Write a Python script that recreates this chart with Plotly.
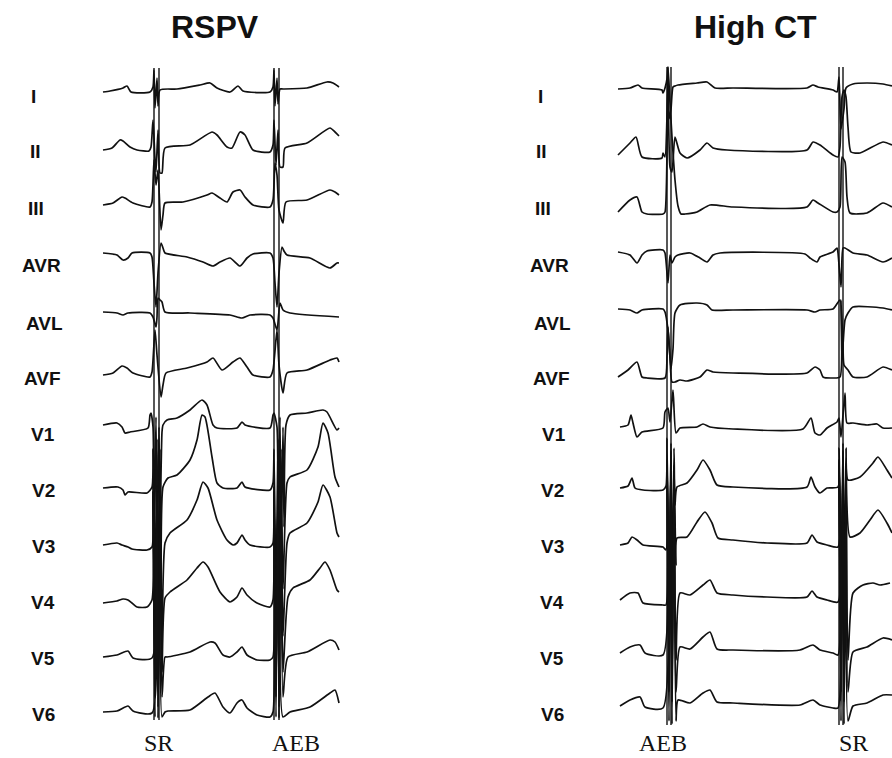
import plotly.graph_objects as go

# ---------------- data: (time, amplitude) samples ----------------
leads = ["I", "II", "III", "AVR", "AVL", "AVF", "V1", "V2", "V3", "V4", "V5", "V6"]

# RSPV panel (beat 1 = SR, beat 2 = AEB)
rspv_I = [(3,0),(10,1),(23,4),(27,6),(31,0),(50,0),(53,5),(54,22),(55,-16),(57,14),(58,-14),(60,2),(77,3),(100,7),(110,9),(117,4),(130,0),(138,6),(143,1),(170,0),(173,5),(174,22),(175,-14),(177,14),(178,-12),(180,3),(183,3),(207,4),(227,10),(233,9),(239,5)]
rspv_II = [(3,0),(12,2),(20,10),(23,9),(30,3),(37,0),(49,-1),(51,3),(53,30),(55,-10),(56,-22),(58,20),(60,-23),(62,-23),(65,2),(90,5),(112,18),(117,15),(127,3),(132,2),(140,18),(145,15),(153,0),(170,-2),(173,5),(174,30),(176,-15),(178,20),(180,-17),(183,-17),(185,2),(207,7),(230,22),(235,18),(239,14)]
rspv_III = [(3,0),(13,2),(22,8),(25,7),(33,2),(50,-2),(52,3),(54,45),(56,20),(58,35),(61,-25),(63,-10),(65,2),(83,3),(107,10),(112,12),(120,7),(127,3),(133,13),(140,15),(145,8),(153,0),(170,-2),(173,5),(175,42),(177,30),(179,-5),(183,-18),(186,3),(207,5),(230,15),(235,13),(239,10)]
rspv_AVR = [(3,0),(17,-2),(23,-7),(28,-5),(32,0),(50,0),(52,-4),(54,-30),(56,-54),(58,-20),(61,10),(63,5),(65,0),(87,-4),(103,-9),(113,-13),(120,-9),(130,-5),(140,-13),(147,-5),(153,-1),(170,0),(173,-5),(175,-30),(177,-54),(179,-20),(182,6),(184,2),(187,-2),(210,-5),(230,-15),(237,-10),(239,-10)]
rspv_AVL = [(3,0),(17,-1),(23,-3),(28,-1),(50,-1),(53,-5),(56,-15),(57,-5),(58,14),(60,12),(62,10),(65,0),(90,-1),(130,-3),(142,-6),(150,-3),(170,-3),(173,-6),(177,-18),(180,9),(183,2),(190,-1),(239,-5)]
rspv_AVF = [(3,0),(13,2),(22,9),(27,7),(33,2),(50,-2),(52,3),(55,45),(57,20),(61,-22),(63,-10),(66,2),(87,7),(107,13),(113,17),(122,5),(133,13),(140,17),(147,8),(153,0),(170,-2),(173,5),(177,45),(179,10),(183,-18),(187,2),(207,5),(230,15),(237,17),(239,13)]
rspv_V1 = [(3,2),(17,4),(22,0),(25,-6),(30,-5),(48,-1),(50,12),(51,14),(53,0),(54,-110),(56,10),(57,-120),(59,0),(60,-100),(62,-5),(63,2),(67,7),(77,9),(90,17),(102,27),(107,22),(113,2),(117,-1),(137,-1),(142,5),(145,2),(170,-1),(173,12),(174,14),(177,0),(178,-110),(180,10),(181,-120),(183,0),(184,-100),(186,2),(190,12),(207,14),(223,17),(227,15),(237,-3),(239,-1)]
rspv_V2 = [(3,1),(18,2),(23,-1),(25,-6),(28,-3),(47,-4),(52,2),(53,40),(55,-110),(57,50),(58,-120),(60,40),(61,-100),(63,2),(68,11),(77,14),(90,29),(97,49),(102,74),(105,72),(112,32),(117,6),(123,1),(137,1),(142,7),(145,2),(170,-1),(173,6),(174,40),(176,-110),(178,50),(179,-120),(181,40),(183,-100),(187,6),(190,12),(207,19),(218,42),(223,66),(228,56),(235,12),(239,2)]
rspv_V3 = [(3,1),(17,3),(22,1),(28,-1),(32,-3),(47,-4),(52,-1),(53,50),(55,-110),(57,60),(58,-120),(60,50),(62,-90),(65,3),(70,13),(87,26),(97,46),(103,64),(108,58),(117,26),(127,6),(133,1),(137,3),(142,11),(145,6),(150,1),(170,-1),(173,3),(174,50),(176,-110),(178,60),(179,-120),(181,50),(183,-90),(187,3),(190,13),(207,23),(218,44),(223,61),(230,49),(237,13),(239,9)]
rspv_V4 = [(3,-1),(17,1),(23,3),(28,2),(32,-1),(37,-5),(47,-5),(52,2),(53,110),(55,-80),(57,110),(58,-90),(60,100),(62,-70),(65,4),(70,10),(87,22),(97,34),(103,40),(108,35),(120,10),(130,0),(137,5),(142,14),(147,7),(157,-1),(170,-5),(173,2),(174,110),(176,-80),(178,110),(179,-90),(181,100),(183,-70),(188,5),(193,14),(210,22),(220,34),(225,40),(230,32),(237,12),(239,10)]
rspv_V5 = [(3,0),(17,2),(28,6),(33,-1),(52,-1),(53,170),(55,-40),(57,170),(58,-50),(60,160),(62,-40),(65,0),(67,0),(90,5),(110,15),(115,14),(123,2),(130,0),(137,5),(142,10),(147,2),(157,-3),(170,-3),(173,0),(174,170),(176,-40),(178,170),(179,-50),(181,160),(183,-40),(188,0),(207,5),(230,17),(235,15),(239,7)]
rspv_V6 = [(3,0),(17,1),(28,6),(33,1),(52,-1),(53,220),(55,-5),(57,220),(58,-6),(60,200),(62,-5),(65,0),(68,1),(90,2),(108,15),(115,19),(123,5),(130,-1),(137,9),(142,12),(147,4),(157,-3),(170,-5),(173,0),(174,220),(176,-5),(178,220),(179,-6),(181,200),(183,-5),(190,0),(210,5),(230,19),(235,22),(239,9)]
rspv_spike_times = [54, 59, 174, 179]

# High CT panel (beat 1 = AEB, beat 2 = SR)
hct_I = [(3,0),(15,1),(23,4),(27,1),(47,-1),(48,-4),(50,1),(52,10),(53,22),(54,-30),(56,-20),(58,2),(60,3),(63,4),(82,6),(92,7),(100,1),(118,1),(192,1),(198,4),(203,2),(218,-1),(222,-3),(224,12),(226,-40),(229,-20),(231,1),(238,5),(252,6),(268,5),(277,3)]
hct_II = [(3,2),(15,14),(21,20),(27,0),(47,-1),(48,4),(50,0),(53,70),(55,-10),(57,-15),(60,20),(65,4),(72,-1),(85,7),(92,14),(98,9),(112,7),(192,7),(198,15),(205,12),(218,2),(223,0),(225,10),(227,60),(229,67),(231,60),(233,30),(236,5),(245,4),(268,15),(277,12)]
hct_III = [(3,0),(15,12),(22,15),(27,0),(32,-2),(48,-2),(50,0),(53,145),(55,109),(57,75),(60,32),(63,6),(66,-2),(70,-2),(82,0),(95,7),(118,5),(192,5),(198,12),(203,9),(218,0),(222,0),(225,5),(227,55),(230,50),(232,15),(235,-1),(252,-1),(268,9),(277,5)]
hct_AVR = [(3,0),(15,-3),(22,-11),(27,-3),(32,1),(48,2),(50,-1),(53,-31),(55,-3),(57,-11),(60,-5),(63,-3),(75,-1),(85,-6),(92,-10),(98,-3),(105,-1),(190,-2),(195,-6),(202,-10),(205,-5),(218,0),(222,4),(223,-1),(226,-35),(228,4),(230,4),(238,-1),(252,-3),(268,-10),(277,-6)]
hct_AVL = [(3,0),(15,-1),(22,-4),(27,-1),(48,0),(50,-3),(53,-21),(56,-60),(58,-40),(60,-4),(65,4),(82,6),(92,4),(97,-1),(118,-1),(192,-1),(200,-3),(205,-1),(218,0),(225,9),(227,-50),(230,-11),(233,-4),(238,2),(268,1),(277,-1)]
hct_AVF = [(3,0),(13,7),(22,15),(27,0),(32,-1),(50,-1),(52,20),(53,50),(55,20),(57,-5),(60,-5),(65,-3),(72,-4),(85,0),(92,7),(98,5),(118,4),(192,4),(200,10),(205,7),(208,0),(218,-1),(225,0),(226,77),(228,30),(229,12),(233,7),(238,0),(252,0),(268,10),(277,7)]
hct_V1 = [(5,0),(13,2),(16,12),(18,4),(22,-10),(27,-5),(48,-1),(50,15),(53,19),(55,5),(58,37),(61,-6),(65,-1),(82,0),(88,3),(95,0),(118,-2),(188,-2),(196,9),(200,-6),(205,-8),(212,-1),(222,5),(224,9),(226,-10),(230,34),(232,4),(238,4),(252,2),(262,3),(268,-1),(277,-1)]
hct_V2 = [(5,0),(13,2),(17,10),(20,0),(28,-2),(48,-2),(51,2),(52,50),(54,-110),(56,45),(57,-120),(59,40),(60,-17),(62,1),(72,5),(82,18),(88,28),(95,18),(102,3),(118,1),(192,1),(196,11),(200,1),(205,-5),(212,0),(223,1),(224,40),(226,-110),(228,45),(229,-120),(231,40),(233,8),(245,11),(258,25),(263,31),(272,18),(277,10)]
hct_V3 = [(5,0),(13,2),(17,8),(22,5),(28,0),(48,-2),(51,-5),(52,80),(54,-100),(56,85),(57,-110),(59,80),(61,-20),(62,7),(72,8),(82,23),(90,33),(97,22),(103,7),(118,5),(152,2),(192,2),(197,10),(202,3),(212,0),(223,-2),(224,80),(226,-100),(228,85),(229,-110),(231,80),(235,8),(245,12),(255,25),(263,35),(272,22),(277,12)]
hct_V4 = [(5,0),(15,7),(23,7),(28,-3),(48,-5),(51,-5),(52,140),(54,-80),(56,150),(57,-90),(59,130),(61,-60),(65,7),(75,5),(88,15),(95,20),(102,7),(118,5),(152,3),(192,3),(197,9),(202,3),(212,0),(223,-2),(224,140),(226,-80),(228,150),(229,-90),(231,130),(233,-60),(238,7),(248,15),(258,17),(265,15),(275,17)]
hct_V5 = [(5,-1),(15,5),(25,7),(30,-1),(48,-3),(52,190),(54,-40),(56,200),(57,-50),(59,180),(61,-40),(65,5),(75,3),(88,15),(95,20),(102,3),(118,2),(185,2),(198,7),(205,2),(218,-1),(223,-3),(224,190),(226,-40),(228,200),(229,-50),(231,180),(233,-40),(238,0),(252,5),(268,14),(277,12)]
hct_V6 = [(5,0),(15,6),(25,9),(30,-1),(48,-2),(52,240),(54,-15),(56,250),(57,-18),(59,230),(61,-15),(63,6),(75,3),(88,13),(95,16),(102,4),(118,3),(185,1),(198,6),(205,1),(218,-2),(223,-2),(224,240),(226,-15),(228,250),(229,-18),(231,230),(233,-15),(238,0),(252,3),(268,11),(277,11)]
hct_spike_times = [52, 56, 224, 228]

panel_titles = ["RSPV", "High CT"]
beat_labels_rspv = ["SR", "AEB"]
beat_labels_hct = ["AEB", "SR"]

# ---------------- layout (positions in page pixels) ----------------
W, H = 892, 758
rspv_rows = [92, 150, 205, 253, 312, 375, 427, 489, 546, 602, 657, 712]
hct_rows = [89, 157, 212, 252, 309, 377, 427, 488, 545, 600, 652, 706]

rspv_data = [rspv_I, rspv_II, rspv_III, rspv_AVR, rspv_AVL, rspv_AVF,
             rspv_V1, rspv_V2, rspv_V3, rspv_V4, rspv_V5, rspv_V6]
hct_data = [hct_I, hct_II, hct_III, hct_AVR, hct_AVL, hct_AVF,
            hct_V1, hct_V2, hct_V3, hct_V4, hct_V5, hct_V6]

INK = "#111111"
LW = 1.7

fig = go.Figure()

def add_panel(data, rows, spikes, xaxis, top_extra, bottom_extra):
    for pts, base in zip(data, rows):
        fig.add_trace(go.Scatter(
            x=[p[0] for p in pts], y=[p[1] - base for p in pts],
            mode="lines", line=dict(color=INK, width=LW, shape="spline", smoothing=0.6),
            xaxis=xaxis, yaxis="y", hoverinfo="skip", showlegend=False))
    xs, ys = [], []
    top = -rows[0] + top_extra
    bot = -rows[-1] - bottom_extra
    for t in spikes:
        xs += [t, t, None]
        ys += [top, bot, None]
    fig.add_trace(go.Scatter(x=xs, y=ys, mode="lines",
                             line=dict(color=INK, width=1.4),
                             xaxis=xaxis, yaxis="y", hoverinfo="skip", showlegend=False))

add_panel(rspv_data, rspv_rows, rspv_spike_times, "x", 24, 8)
add_panel(hct_data, hct_rows, hct_spike_times, "x2", 22, 19)

ann = []
# panel titles
for txt, px in zip(panel_titles, [215, 755]):
    ann.append(dict(text="<b>%s</b>" % txt, x=px / W, y=1 - 27 / H, xref="paper", yref="paper",
                    showarrow=False, xanchor="center", yanchor="middle",
                    font=dict(family="Liberation Sans, Arial", size=32, color=INK)))
# lead labels
left_label_x = [33, 35, 36, 41, 44, 42, 43, 43, 43, 43, 43, 43]
right_label_x = [540, 541, 543, 549, 552, 551, 554, 552, 552, 552, 552, 552]
label_y = [97, 152, 208, 266, 323, 378, 434, 490, 546, 602, 658, 714]
for name, lx, rx, ly in zip(leads, left_label_x, right_label_x, label_y):
    for xx in (lx, rx):
        ann.append(dict(text="<b>%s</b>" % name, x=xx / W, y=1 - ly / H, xref="paper", yref="paper",
                        showarrow=False, xanchor="center", yanchor="middle",
                        font=dict(family="Liberation Sans, Arial", size=19, color=INK)))
# beat labels
for txt, px in zip(beat_labels_rspv + beat_labels_hct, [158, 296, 663, 853]):
    ann.append(dict(text=txt, x=px / W, y=1 - 743 / H, xref="paper", yref="paper",
                    showarrow=False, xanchor="center", yanchor="middle",
                    font=dict(family="Liberation Serif, Times New Roman", size=24, color=INK)))

fig.update_layout(
    width=W, height=H, margin=dict(l=0, r=0, t=0, b=0),
    paper_bgcolor="white", plot_bgcolor="white",
    xaxis=dict(domain=[100 / W, 342 / W], range=[0, 242], visible=False, fixedrange=True),
    xaxis2=dict(domain=[615 / W, 1], range=[0, 277], visible=False, fixedrange=True, anchor="y"),
    yaxis=dict(domain=[0, 1], range=[-H, 0], visible=False, fixedrange=True),
    annotations=ann,
)

fig.write_html("out.html", config={"displayModeBar": False},
               post_script="document.body.style.margin='0';document.body.style.overflow='hidden';")
